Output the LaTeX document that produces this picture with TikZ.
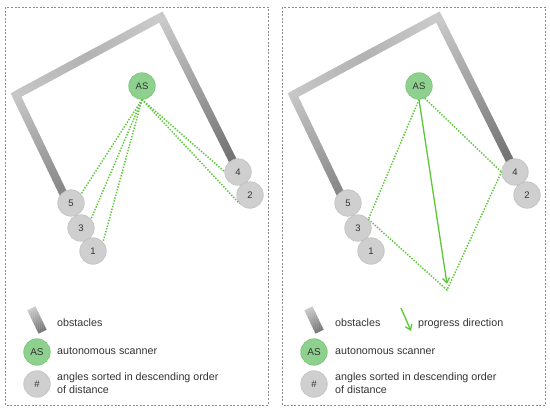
\documentclass[tikz,border=0pt]{standalone}
\usepackage{fontspec}
\setmainfont{Liberation Sans}
\usetikzlibrary{arrows.meta,calc}
\definecolor{grline}{HTML}{5EC63A}
\definecolor{asfill}{HTML}{8ED18E}
\definecolor{asdraw}{HTML}{72C272}
\definecolor{ndfill}{HTML}{CFCFCF}
\definecolor{nddraw}{HTML}{BEBEBE}
\definecolor{txt}{HTML}{333333}
\definecolor{framec}{HTML}{8C8C8C}
\tikzset{
  asnode/.style={circle, minimum size=26.5pt, inner sep=0pt, fill=asfill, draw=asdraw, line width=0.6pt, font=\fontsize{9.5}{10}\selectfont, text=txt},
  numnode/.style={circle, minimum size=26.5pt, inner sep=0pt, fill=ndfill, draw=nddraw, line width=0.6pt, font=\fontsize{9.5}{10}\selectfont, text=txt},
  scanline/.style={grline, line width=1.5pt, dash pattern=on 1.4pt off 1.5pt},
  progress/.style={grline, line width=1.3pt, -{Straight Barb[length=5pt,width=7pt]}},
  panelbox/.style={framec, dash pattern=on 2pt off 1.6pt, line width=0.6pt},
  legtext/.style={anchor=base west, font=\fontsize{10.7}{12.4}\selectfont, text=txt, inner sep=0pt, align=left},
}
% gradient wall piece: #1 start, #2 end, #3 start %black, #4 end %black, #5 width
\newcommand\wallarm[5]{%
  \foreach \i in {0,...,29}{%
    \pgfmathsetmacro\pc{#3+(#4-#3)*(\i+0.5)/30}%
    \pgfmathsetmacro\pa{\i/30}%
    \pgfmathsetmacro\pb{min(1,(\i+1.15)/30)}%
    \draw[line width=#5, draw=black!\pc] ($#1!\pa!#2$) -- ($#1!\pb!#2$);
  }%
}
\newcommand\walls[1]{%
  \begin{scope}[xshift=#1]
    \draw[line width=8pt, black!22, line join=miter] (64,195) -- (16,95) -- (161,17) -- (234,163);
    \wallarm{(16,95)}{(64,195)}{22}{48}{8pt}
    \wallarm{(16,95)}{(88.5,56)}{22}{30}{8pt}
    \wallarm{(88.5,56)}{(161,17)}{30}{20}{8pt}
    \wallarm{(161,17)}{(234,163)}{20}{56}{8pt}
  \end{scope}%
}
\begin{document}
\begin{tikzpicture}[x=1pt,y=-1pt]
\useasboundingbox (0,0) rectangle (550,412);
% panels
\draw[panelbox] (5,7) rectangle (268,405);
\draw[panelbox] (282,7) rectangle (545,405);
% walls
\walls{0pt}
\walls{277pt}
% ---- left panel ----
\node[asnode] (AS) at (142,86) {AS};
\node[numnode] (n5) at (71,203) {5};
\node[numnode] (n3) at (81,228) {3};
\node[numnode] (n1) at (93,251) {1};
\node[numnode] (n4) at (238,172) {4};
\node[numnode] (n2) at (250,195) {2};
\draw[scanline] (AS.south) -- (n5.42);
\draw[scanline] (AS.south) -- (n3.42);
\draw[scanline] (AS.south) -- (n1.42);
\draw[scanline] (AS.south) -- (n4.178);
\draw[scanline] (AS.south) -- (n2.219);
% ---- right panel ----
\node[asnode] (RAS) at (419,86) {AS};
\node[numnode] (Rn5) at (348,203) {5};
\node[numnode] (Rn3) at (358,228) {3};
\node[numnode] (Rn1) at (371,251) {1};
\node[numnode] (Rn4) at (515,172) {4};
\node[numnode] (Rn2) at (527,195) {2};
\coordinate (Rtip) at (447,290);
\coordinate (Rhead) at (447,284);
\draw[scanline] (RAS.south) -- (Rn3.40);
\draw[scanline] (RAS.295) -- (Rn4.west);
\draw[scanline] (Rn3.40) -- (Rtip) -- (Rn4.west);
\draw[progress] (RAS.south) -- (Rhead);
% ---- legend left ----
\wallarm{(31.4,308.3)}{(42.6,331.7)}{20}{55}{9pt}
\node[legtext] (lo) at (57,326) {obstacles};
\node[asnode, font=\fontsize{10}{11}\selectfont] (las) at (37,352) {AS};
\node[legtext] (lat) at (57,354) {autonomous scanner};
\node[numnode, font=\fontsize{9.5}{10}\selectfont] (lh) at (37,384) {\#};
\node[legtext] (lht) at (57,393) {angles sorted in descending order\\of distance};
% ---- legend right ----
\wallarm{(308.4,308.3)}{(319.6,331.7)}{20}{55}{9pt}
\node[legtext] (ro) at (335,326) {obstacles};
\coordinate (ra1) at (401,308);
\coordinate (ra2) at (411,331);
\draw[progress] (ra1) -- (ra2);
\node[legtext] (rp) at (418,326) {progress direction};
\node[asnode, font=\fontsize{10}{11}\selectfont] (ras) at (314,352) {AS};
\node[legtext] (rat) at (335,354) {autonomous scanner};
\node[numnode, font=\fontsize{9.5}{10}\selectfont] (rh) at (314,384) {\#};
\node[legtext] (rht) at (335,393) {angles sorted in descending order\\of distance};
\end{tikzpicture}
\end{document}
